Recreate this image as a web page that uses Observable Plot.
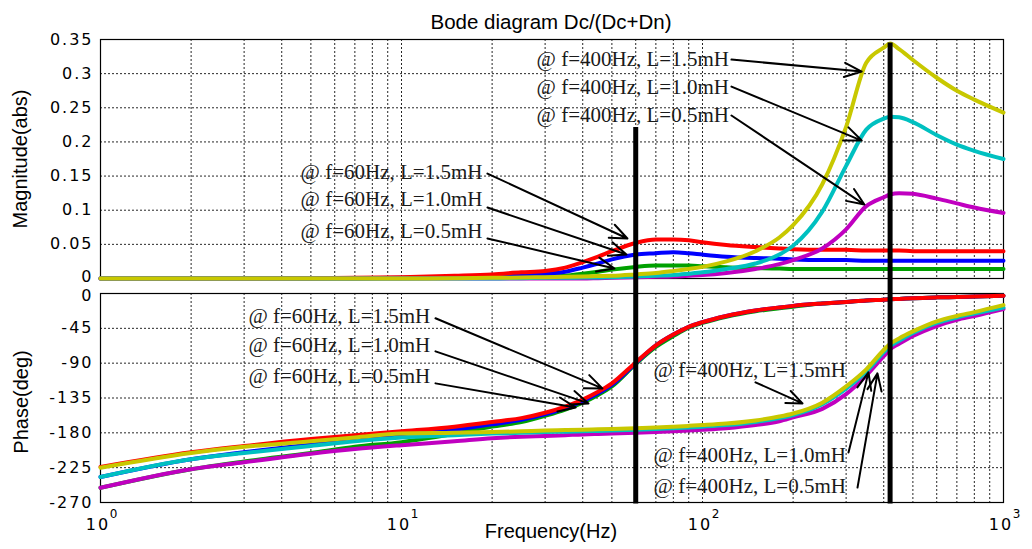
<!DOCTYPE html>
<html>
<head>
<meta charset="utf-8">
<script src="https://cdn.jsdelivr.net/npm/d3@7"></script>
<script src="https://cdn.jsdelivr.net/npm/@observablehq/plot@0.6"></script>
<style>
  html, body { margin: 0; padding: 0; background: #fff; }
  #wrap { position: relative; width: 1032px; height: 549px; overflow: hidden; background: #fff; }
  #title { position: absolute; left: 551px; top: 28px; transform: translate(-50%, -80%); font: 20.5px "Liberation Sans", Arial, sans-serif; white-space: nowrap; color: #000; line-height: 1; }
  .ylab { position: absolute; font: 20px "Liberation Sans", Arial, sans-serif; white-space: nowrap; line-height: 1; transform: translate(-50%, -50%) rotate(-90deg); color: #000; }
  #xlab { position: absolute; left: 551px; top: 537px; transform: translate(-50%, -80%); font: 20px "Liberation Sans", Arial, sans-serif; white-space: nowrap; line-height: 1; color: #000; }
  #p1, #p2 { position: absolute; left: 0; width: 1032px; }
  #p1 { top: 0; }
  #p2 { top: 286px; }
  #p1 svg, #p2 svg { overflow: visible; }
  g[aria-label="y-axis tick label"] text, g[aria-label="x-axis tick label"] text { letter-spacing: 2px; }
</style>
</head>
<body>
<div id="wrap">
  <div id="p1"></div>
  <div id="p2"></div>
  <div id="title">Bode diagram Dc/(Dc+Dn)</div>
  <div class="ylab" style="left:20px;top:159px;">Magnitude(abs)</div>
  <div class="ylab" style="left:21px;top:402px;">Phase(deg)</div>
  <div id="xlab">Frequency(Hz)</div>
</div>
<script>
// ---------- data ----------
const freq = [1, 2, 3, 5, 7, 10, 15, 20, 25, 30, 35, 40, 45, 50, 60, 70, 80, 90, 100, 120, 150, 180, 200, 250, 300, 350, 400, 420, 450, 500, 600, 700, 800, 1000];

// magnitude (abs)
const magRed60_15    = [0, 0, 0, 0.0005, 0.001, 0.002, 0.004, 0.006, 0.009, 0.011, 0.016, 0.024, 0.032, 0.040, 0.052, 0.057, 0.057, 0.056, 0.053, 0.049, 0.046, 0.044, 0.043, 0.042, 0.042, 0.041, 0.041, 0.041, 0.041, 0.040, 0.040, 0.040, 0.040, 0.040];
const magBlue60_10   = [0, 0, 0, 0, 0.0005, 0.001, 0.002, 0.003, 0.005, 0.007, 0.010, 0.016, 0.022, 0.028, 0.035, 0.037, 0.0385, 0.037, 0.035, 0.032, 0.030, 0.029, 0.028, 0.027, 0.027, 0.026, 0.026, 0.026, 0.026, 0.026, 0.026, 0.026, 0.026, 0.026];
const magGreen60_05  = [0, 0, 0, 0, 0, 0.0005, 0.001, 0.002, 0.002, 0.003, 0.004, 0.007, 0.010, 0.013, 0.017, 0.019, 0.019, 0.019, 0.018, 0.0165, 0.015, 0.0145, 0.014, 0.014, 0.014, 0.014, 0.014, 0.014, 0.014, 0.014, 0.014, 0.014, 0.014, 0.014];
const magYellow400_15 = [0, 0, 0, 0, 0, 0, 0.0005, 0.001, 0.0015, 0.002, 0.0025, 0.003, 0.0035, 0.004, 0.006, 0.008, 0.011, 0.014, 0.017, 0.025, 0.040, 0.060, 0.078, 0.138, 0.222, 0.316, 0.338, 0.344, 0.336, 0.320, 0.294, 0.275, 0.262, 0.243];
const magCyan400_10  = [0, 0, 0, 0, 0, 0, 0, 0, 0.0005, 0.001, 0.001, 0.0015, 0.0015, 0.002, 0.003, 0.004, 0.005, 0.007, 0.009, 0.014, 0.022, 0.035, 0.048, 0.098, 0.165, 0.218, 0.234, 0.237, 0.236, 0.229, 0.210, 0.196, 0.187, 0.175];
const magMag400_05   = [0, 0, 0, 0, 0, 0, 0, 0, 0, 0, 0, 0, 0.0005, 0.001, 0.002, 0.0025, 0.003, 0.004, 0.005, 0.008, 0.014, 0.021, 0.027, 0.044, 0.072, 0.106, 0.119, 0.123, 0.125, 0.124, 0.117, 0.110, 0.104, 0.096];

// phase (deg)
const phRed60_15    = [-224, -205, -197, -188, -183, -178, -172, -166, -161, -154, -146, -137, -127, -116, -89, -67, -53, -43, -37, -29, -22, -18, -16, -13, -11, -9, -8, -7.5, -7, -6, -5, -4.5, -4, -3];
const phBlue60_10   = [-237, -214, -205, -195, -189, -183, -176, -169, -163, -156, -148, -139, -129, -118, -90, -67, -53, -43, -37, -29, -22, -18, -16, -13, -11, -9, -8, -7.5, -7, -6, -5, -4.5, -4, -3];
const phGreen60_05  = [-251, -227, -217, -206, -198, -192, -181, -172, -166, -158, -150, -141, -131, -120, -91, -69, -55, -44, -38, -30, -23, -19, -17, -13, -11, -9, -8, -7.5, -7, -6, -5, -4.5, -4, -3];
const phYellow400_15 = [-225, -206, -198, -191, -186, -181, -180, -179, -178, -177, -176.5, -176, -175.5, -175, -174, -173, -172, -171, -170, -168, -164, -159, -155, -141, -120, -98, -73, -65, -58, -49, -36, -29, -24, -15];
const phCyan400_10  = [-237, -214, -206, -197, -191, -186, -183, -181, -180, -179, -178.5, -178, -177.5, -177, -176, -175, -174, -173, -172, -170, -166, -161, -157, -143, -123, -101, -76, -68, -61, -51, -38, -31, -26, -18];
const phMag400_05   = [-251, -227, -218, -207, -201, -196, -191, -187, -185, -184, -183, -182, -181.5, -181, -180, -179, -178, -177, -176, -174, -170, -165, -160, -149, -130, -106, -81, -72, -65, -55, -42, -34, -29, -20];

// axes ticks
const magTicks = [0, 0.05, 0.1, 0.15, 0.2, 0.25, 0.3, 0.35];
const magTickLabels = ["0", "0.05", "0.1", "0.15", "0.2", "0.25", "0.3", "0.35"];
const phTicks = [0, -45, -90, -135, -180, -225, -270];
const phTickLabels = ["0", "-45", "-90", "-135", "-180", "-225", "-270"];
const decades = [1, 10, 100, 1000];
const decadeBase = ["10", "10", "10", "10"];
const decadeExp = ["0", "1", "2", "3"];

// marker lines (frequency, top of line in magnitude panel)
const markerFreq = [60, 420];
const markerMagTop = [0.221, 0.345];

// annotations
const labels60 = ["@ f=60Hz, L=1.5mH", "@ f=60Hz, L=1.0mH", "@ f=60Hz, L=0.5mH"];
const labels400 = ["@ f=400Hz, L=1.5mH", "@ f=400Hz, L=1.0mH", "@ f=400Hz, L=0.5mH"];

const magLabelF = [4.62, 4.62, 4.62, 28.1, 28.1, 28.1];
const magLabelV = [0.1464, 0.1069, 0.0586, 0.3119, 0.2709, 0.2299];
const magArrowF1 = [19.3, 19.3, 19.3, 124.8, 124.8, 124.8];
const magArrowV1 = [0.1537, 0.104, 0.0586, 0.3206, 0.2811, 0.2387];
const magArrowF2 = [56.3, 55.9, 51.0, 338, 338, 345];
const magArrowV2 = [0.0586, 0.0351, 0.0146, 0.3031, 0.2020, 0.1083];

const phLabelF = [3.10, 3.10, 3.10, 68.8, 68.8, 68.8];
const phLabelP = [-38.4, -76.0, -116.1, -108.3, -218.3, -257.2];
const phArrowF1 = [12.97, 12.97, 12.97, 150, 305.5, 327.3];
const phArrowP1 = [-32.0, -74.7, -116.1, -114.8, -205.4, -250.7];
const phArrowF2 = [46.5, 41.8, 37.9, 214.9, 356, 381.4];
const phArrowP2 = [-122.6, -142.0, -147.2, -142.0, -101.9, -103.2];

// ---------- styling / build ----------
const series = [
  {mag: magGreen60_05, ph: phGreen60_05, color: "#00a000"},
  {mag: magBlue60_10, ph: phBlue60_10, color: "#0000ff"},
  {mag: magRed60_15, ph: phRed60_15, color: "#ff0000"},
  {mag: magMag400_05, ph: phMag400_05, color: "#c000c0"},
  {mag: magCyan400_10, ph: phCyan400_10, color: "#00c0c0"},
  {mag: magYellow400_15, ph: phYellow400_15, color: "#c8c800"}
];
const rows = vals => freq.map((f, i) => ({f, v: vals[i]}));
const allLabels = labels60.concat(labels400);

const gridF = [];
for (const d of [1, 10, 100]) for (let k = 1; k <= 9; k++) gridF.push(d * k);
gridF.push(1000);

const gridStyle = {stroke: "#000", strokeOpacity: 0.85, strokeWidth: 1, strokeDasharray: "2,2"};
const textStyle = {textAnchor: "start", lineAnchor: "bottom", fontFamily: "Liberation Serif", fontSize: 21, fill: "#1a1a1a"};
const arrowStyle = {stroke: "#000", strokeWidth: 2, headLength: 14, headAngle: 45};
const svgStyle = {fontFamily: "DejaVu Sans", fontSize: "16px", color: "#000", background: "transparent", overflow: "visible"};
const axisOpts = {tickSize: 0, tickPadding: 7, label: null};

const magAnn = allLabels.map((t, i) => ({t, f: magLabelF[i], v: magLabelV[i]}));
const magArr = magArrowF1.map((f, i) => ({f1: f, v1: magArrowV1[i], f2: magArrowF2[i], v2: magArrowV2[i]}));
const phAnn = allLabels.map((t, i) => ({t, f: phLabelF[i], v: phLabelP[i]}));
const phArr = phArrowF1.map((f, i) => ({f1: f, v1: phArrowP1[i], f2: phArrowF2[i], v2: phArrowP2[i]}));
const markers = markerFreq.map((f, i) => ({f, top: markerMagTop[i]}));

const magFmt = d => magTickLabels[magTicks.indexOf(d)];
const phFmt = d => phTickLabels[phTicks.indexOf(d)];

const p1 = Plot.plot({
  width: 1032, height: 286,
  marginLeft: 100, marginRight: 29, marginTop: 39, marginBottom: 8,
  style: svgStyle,
  x: {type: "log", domain: [1, 1000], axis: null},
  y: {domain: [0, 0.35]},
  marks: [
    Plot.ruleX(gridF.filter(d => d > 1 && d < 1000), {x: d => d, ...gridStyle}),
    Plot.ruleY(magTicks.filter(v => v > 0 && v < 0.35), {y: d => d, ...gridStyle}),
    Plot.frame({stroke: "#000", strokeWidth: 1.2}),
    Plot.axisY(magTicks.filter(v => v !== 0), {tickFormat: magFmt, ...axisOpts}),
    Plot.axisY([0], {tickFormat: magFmt, ...axisOpts, dy: -2}),
    ...series.map(s => Plot.line(rows(s.mag), {x: "f", y: "v", stroke: s.color, strokeWidth: 4, curve: "monotone-x"})),
    Plot.ruleX(markers, {x: "f", y1: "top", y2: () => -0.022, stroke: "#000", strokeWidth: 5}),
    Plot.arrow(magArr, {x1: "f1", y1: "v1", x2: "f2", y2: "v2", ...arrowStyle}),
    Plot.text(magAnn, {x: "f", y: "v", text: "t", ...textStyle})
  ]
});
document.getElementById("p1").appendChild(p1);

const p2 = Plot.plot({
  width: 1032, height: 263,
  marginLeft: 100, marginRight: 29, marginTop: 7, marginBottom: 47,
  style: svgStyle,
  x: {type: "log", domain: [1, 1000]},
  y: {domain: [-270, 0]},
  marks: [
    Plot.ruleX(gridF.filter(d => d > 1 && d < 1000), {x: d => d, ...gridStyle}),
    Plot.ruleY(phTicks.filter(v => v < 0 && v > -270), {y: d => d, ...gridStyle}),
    Plot.frame({stroke: "#000", strokeWidth: 1.2}),
    Plot.axisY(phTicks.filter(v => v !== 0), {tickFormat: phFmt, ...axisOpts}),
    Plot.axisY([0], {tickFormat: phFmt, ...axisOpts, dy: 2}),
    Plot.axisX(decades, {tickFormat: d => decadeBase[decades.indexOf(d)], tickSize: 0, tickPadding: 16, label: null, dx: -2.5}),
    Plot.text(decades, {x: d => d, text: d => decadeExp[decades.indexOf(d)], frameAnchor: "bottom", dy: 15, dx: 13, fontSize: 12, fontFamily: "DejaVu Sans"}),
    ...series.map(s => Plot.line(rows(s.ph), {x: "f", y: "v", stroke: s.color, strokeWidth: 4, curve: "monotone-x"})),
    Plot.ruleX(markerFreq, {x: d => d, y1: () => 0, y2: () => -272, stroke: "#000", strokeWidth: 5}),
    Plot.arrow(phArr, {x1: "f1", y1: "v1", x2: "f2", y2: "v2", ...arrowStyle}),
    Plot.text(phAnn, {x: "f", y: "v", text: "t", ...textStyle})
  ]
});
document.getElementById("p2").appendChild(p2);
</script>
</body>
</html>
